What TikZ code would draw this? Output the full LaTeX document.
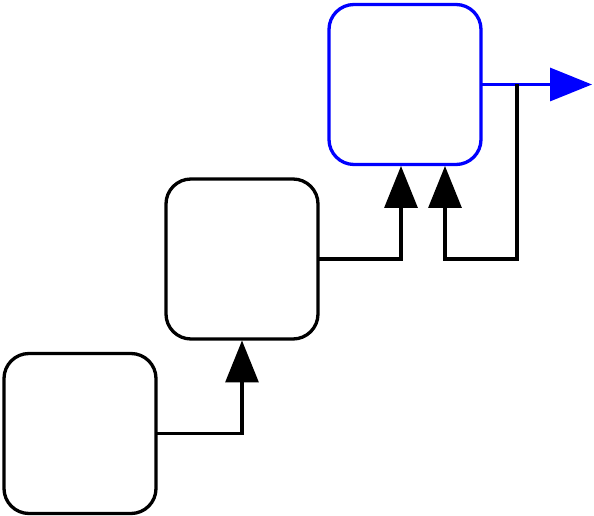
\documentclass[tikz,border=0pt]{standalone}
\definecolor{fbInk}{HTML}{000000}
\definecolor{fbOut}{HTML}{0000FF}
\usetikzlibrary{positioning,arrows.meta}

\begin{document}
\begin{tikzpicture}[line width=3.3pt,
                    block/.style={draw=fbInk,rectangle,rounded corners=25pt,outer sep=0pt,
                                  minimum width=152pt,minimum height=160pt},
                    feed/.style={draw=fbInk,-{Triangle[length=42pt,width=33pt]}}]
  \node[block] (first) {};
  \node[block,above right=14.5pt and 10pt of first] (second) {};
  % The one blue block is the last stage, its output leaves to the right.
  \node[block,above right=14.5pt and 11pt of second,draw=fbOut] (third) {};
  \useasboundingbox ([shift={(-80pt,-82.5pt)}]first.center) rectangle +(594pt,516pt);
  \coordinate (out) at ([xshift=111pt]third.east);
  \coordinate (tap) at ([xshift=36pt]third.east);
  \coordinate (inA) at ([xshift=-4pt,yshift=-1.5pt]third.south);
  \coordinate (inB) at ([xshift=40pt,yshift=-1.5pt]third.south);
  \coordinate (low) at (tap |- second.east);
  \draw[feed] (first.east) -| ([yshift=-1.5pt]second.south);
  \draw[feed] (second.east) -| (inA);
  \draw[feed,draw=fbOut,fill=fbOut] (third.east) -- (out);
  \draw[feed] (tap) -- (low) -| (inB);
\end{tikzpicture}
\end{document}
